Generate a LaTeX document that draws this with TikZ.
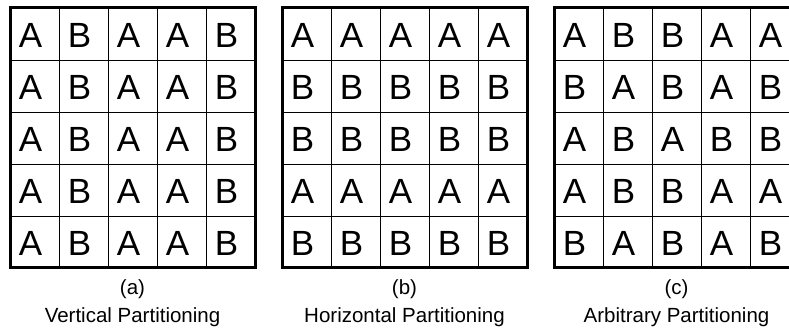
\documentclass[tikz,border=0pt]{standalone}
\usepackage{fontspec}
\setmainfont{Liberation Sans}
\usetikzlibrary{positioning}

\begin{document}
\begin{tikzpicture}[x=1pt,y=1pt,
	cell/.style={inner sep=0pt,font=\fontsize{35}{40}\selectfont},
	caption/.style={anchor=base,inner sep=0pt,font=\fontsize{20.5}{24}\selectfont}]
	\useasboundingbox (0,0) rectangle (789,331);
	% three 5x5 grids: left edge / name / letters row by row
	\foreach \gx/\gname/\letters/\title in {
		10/a/{A,B,A,A,B,A,B,A,A,B,A,B,A,A,B,A,B,A,A,B,A,B,A,A,B}/Vertical Partitioning,
		282/b/{A,A,A,A,A,B,B,B,B,B,B,B,B,B,B,A,A,A,A,A,B,B,B,B,B}/Horizontal Partitioning,
		554/c/{A,B,B,A,A,B,A,B,A,B,A,B,A,B,B,A,B,B,A,A,B,A,B,A,B}/Arbitrary Partitioning}{
		\begin{scope}[xshift=\gx]
			\foreach \k in {1,...,4}{
				\draw[line width=0.8pt] (\k*49,63)--(\k*49,323);
				\draw[line width=0.8pt] (0,63+\k*52)--(245,63+\k*52);
			}
			\draw[line width=3pt] (0,63) rectangle (245,323);
			\foreach \l [count=\i from 0] in \letters{
				\pgfmathtruncatemacro{\c}{mod(\i,5)}
				\pgfmathtruncatemacro{\r}{int(\i/5)}
				\node[cell] (\gname-\i) at (\c*49+20.5,323-\r*52-27) {\l};
			}
			\node[caption] (cap-\gname) at (122.5,36) {(\gname)};
			\node[caption] (title-\gname) at (122.5,8) {\title};
		\end{scope}
	}
\end{tikzpicture}
\end{document}
